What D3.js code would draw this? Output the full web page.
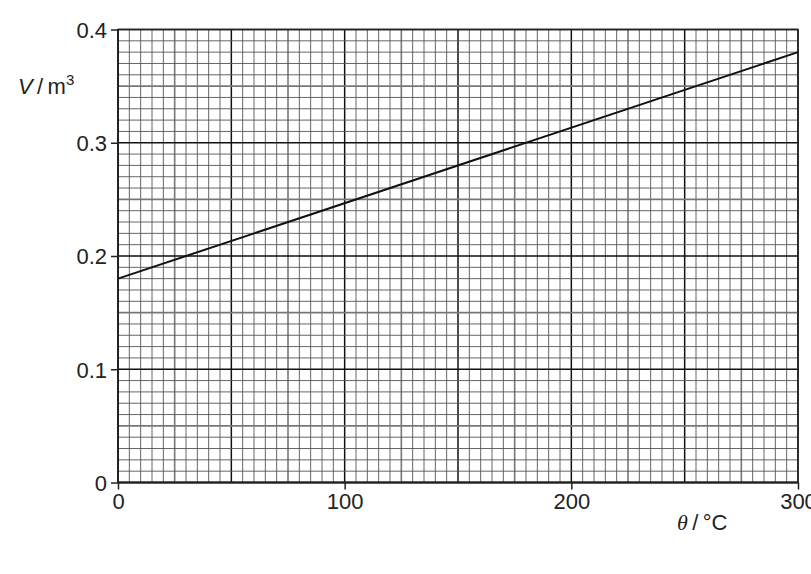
<!DOCTYPE html>
<html>
<head>
<meta charset="utf-8">
<script src="https://cdn.jsdelivr.net/npm/d3@7/dist/d3.min.js"></script>
<style>
  body { margin: 0; background: #fff; }
  svg { display: block; font-family: "Liberation Sans", Arial, sans-serif; }
  .minor { stroke: #555; stroke-width: 0.9; }
  .mid { stroke: #777; stroke-width: 1.6; }
  .major { stroke: #111; stroke-width: 1.5; }
  .lbl { font-size: 22px; fill: #222; }
</style>
</head>
<body>
<svg width="811" height="574"></svg>
<script>
// data
const thetaValues = [0, 300];        // θ / °C
const volumeValues = [0.18, 0.38];   // V / m³
const xTickLabels = [0, 100, 200, 300];
const yTickLabels = [0, 0.1, 0.2, 0.3, 0.4];

const svg = d3.select("svg");
const x = d3.scaleLinear().domain([0, 300]).range([118, 798]);
const y = d3.scaleLinear().domain([0, 0.4]).range([482.5, 29.5]);

const grid = svg.append("g");

// vertical grid: every 5, thicker every 25, black every 50
const xs = x.ticks(60);
xs.forEach((v, i) => {
  const cls = i % 10 === 0 ? "major" : (i % 5 === 0 ? "mid" : "minor");
  grid.append("line").attr("class", cls)
    .attr("x1", x(v)).attr("x2", x(v))
    .attr("y1", y(0)).attr("y2", y(0.4));
});
// horizontal grid: every 0.01, thicker every 0.05, black every 0.1
const ys = y.ticks(40);
ys.forEach((v, i) => {
  const cls = i % 10 === 0 ? "major" : (i % 5 === 0 ? "mid" : "minor");
  grid.append("line").attr("class", cls)
    .attr("x1", x(0)).attr("x2", x(300))
    .attr("y1", y(v)).attr("y2", y(v));
});

// frame
svg.append("rect")
  .attr("x", x(0)).attr("y", y(0.4))
  .attr("width", x(300) - x(0)).attr("height", y(0) - y(0.4))
  .attr("fill", "none").attr("stroke", "#222").attr("stroke-width", 1.5);

// axes
const xAxis = d3.axisBottom(x).tickValues(xTickLabels).tickSize(7).tickPadding(4);
const yAxis = d3.axisLeft(y).tickValues(yTickLabels).tickSize(7).tickPadding(4)
  .tickFormat(d => d === 0 ? "0" : d3.format(".1f")(d));

const gx = svg.append("g").attr("transform", `translate(0,${y(0)})`).call(xAxis);
const gy = svg.append("g").attr("transform", `translate(${x(0)},0)`).call(yAxis);
[gx, gy].forEach(g => {
  g.select(".domain").attr("stroke", "#222").attr("stroke-width", 2);
  g.selectAll(".tick line").attr("stroke", "#222").attr("stroke-width", 1.5);
  g.selectAll(".tick text").attr("class", "lbl").attr("fill", "#222")
    .style("font-family", "'Liberation Sans', Arial, sans-serif");
});
gx.select(".domain").attr("d", `M${x(0)},0H${x(300)}`);
gy.select(".domain").attr("d", `M0,${y(0)}V${y(0.4)}`);
gy.selectAll(".tick text").attr("dy", "0.36em");

// data line
svg.append("path")
  .datum(thetaValues.map((t, i) => [t, volumeValues[i]]))
  .attr("fill", "none").attr("stroke", "#111").attr("stroke-width", 2)
  .attr("d", d3.line().x(d => x(d[0])).y(d => y(d[1])));

// axis titles
const vt = svg.append("text").attr("class", "lbl").attr("x", 18).attr("y", 94);
vt.append("tspan").attr("font-style", "italic").text("V");
vt.append("tspan").text("\u2009/\u2009m");
vt.append("tspan").attr("font-size", "15px").attr("dy", -9).text("3");

const tt = svg.append("text").attr("class", "lbl").attr("x", 677).attr("y", 530);
tt.append("tspan").attr("font-style", "italic")
  .style("font-family", "'Liberation Serif', serif").text("θ");
tt.append("tspan").text("\u2009/\u2009°C");
</script>
</body>
</html>
